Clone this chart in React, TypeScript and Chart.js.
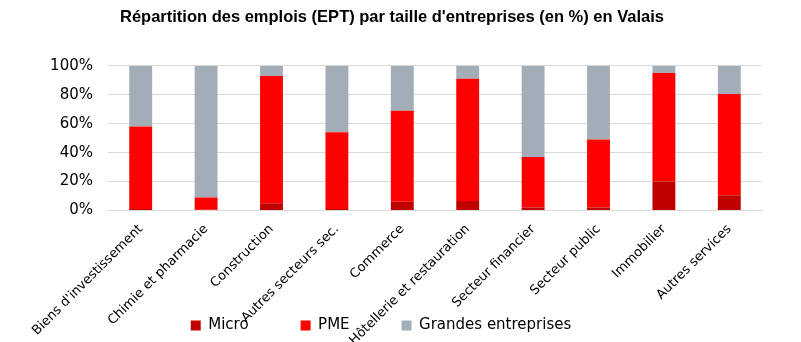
import React, { useEffect, useRef } from "react";
import { Chart, registerables } from "chart.js";

Chart.register(...registerables);

const categories = [
  "Biens d'investissement",
  "Chimie et pharmacie",
  "Construction",
  "Autres secteurs sec.",
  "Commerce",
  "Hôtellerie et restauration",
  "Secteur financier",
  "Secteur public",
  "Immobilier",
  "Autres services",
];
const micro = [1, 0.5, 5, 1, 6, 6.5, 2, 2, 20, 10.5];
const pme = [57, 8.5, 88, 53, 63, 84.5, 35, 47, 75, 70];
const grandes = [42, 91, 7, 46, 31, 9, 63, 51, 5, 19.5];
const yTicks = [0, 20, 40, 60, 80, 100];

const layoutTweaks = {
  id: "layoutTweaks",
  beforeLayout(chart: any) {
    const lg = chart.legend;
    if (lg && !lg.__patched) {
      const orig = lg.fit.bind(lg);
      lg.fit = function () {
        orig();
        this.height = 76;
      };
      lg.__patched = true;
    }
  },
  afterLayout(chart: any) {
    const t = chart.titleBlock;
    if (t) {
      t.left += 11;
      t.right += 11;
    }
  },
};

export default function App() {
  const ref = useRef<HTMLCanvasElement>(null);
  useEffect(() => {
    if (!ref.current) return;
    const font = "'DejaVu Sans', sans-serif";
    const chart = new Chart(ref.current, {
      type: "bar",
      data: {
        labels: categories,
        datasets: [
          { label: "Micro", data: micro, backgroundColor: "#c00000" },
          { label: "PME", data: pme, backgroundColor: "#ff0000" },
          { label: "Grandes entreprises", data: grandes, backgroundColor: "#a3adb8" },
        ],
      },
      plugins: [layoutTweaks],
      options: {
        animation: false,
        responsive: false,
        maintainAspectRatio: false,
        layout: { padding: { left: 0, right: 39, top: 0, bottom: 0 } },
        datasets: { bar: { barPercentage: 0.35, categoryPercentage: 1 } },
        plugins: {
          title: {
            display: true,
            text: "Répartition des emplois (EPT) par taille d'entreprises (en %) en Valais",
            color: "#000",
            font: { family: "'Liberation Sans', Arial, sans-serif", size: 16.5, weight: "bold" },
            padding: { top: 8, bottom: 38 },
          },
          legend: {
            position: "bottom",
            labels: {
              color: "#000",
              boxWidth: 10,
              boxHeight: 10,
              padding: 52,
              font: { family: font, size: 15 },
            },
          },
          tooltip: { enabled: false },
        },
        scales: {
          x: {
            stacked: true,
            grid: { display: false },
            border: { color: "#d9d9d9" },
            afterFit: (axis: any) => {
              axis.height = 55.5;
              axis._computeLabelArea = () => undefined;
            },
            ticks: {
              color: "#000",
              minRotation: 45,
              maxRotation: 45,
              autoSkip: false,
              font: { family: font, size: 13 },
            },
          },
          y: {
            stacked: true,
            min: 0,
            max: 100,
            afterBuildTicks: (axis: any) => {
              axis.ticks = yTicks.map((v) => ({ value: v }));
            },
            afterFit: (axis: any) => {
              axis.width = 108;
            },
            grid: { color: "#d9d9d9", drawTicks: false },
            border: { display: false },
            ticks: {
              color: "#000",
              padding: 15,
              autoSkip: false,
              font: { family: font, size: 15 },
              callback: (v: any) => v + "%",
            },
          },
        },
      },
    });
    return () => chart.destroy();
  }, []);
  return (
    <div style={{ position: "fixed", left: 0, top: 0, width: 801, height: 342, background: "#fff" }}>
      <canvas ref={ref} width={801} height={342} />
    </div>
  );
}
